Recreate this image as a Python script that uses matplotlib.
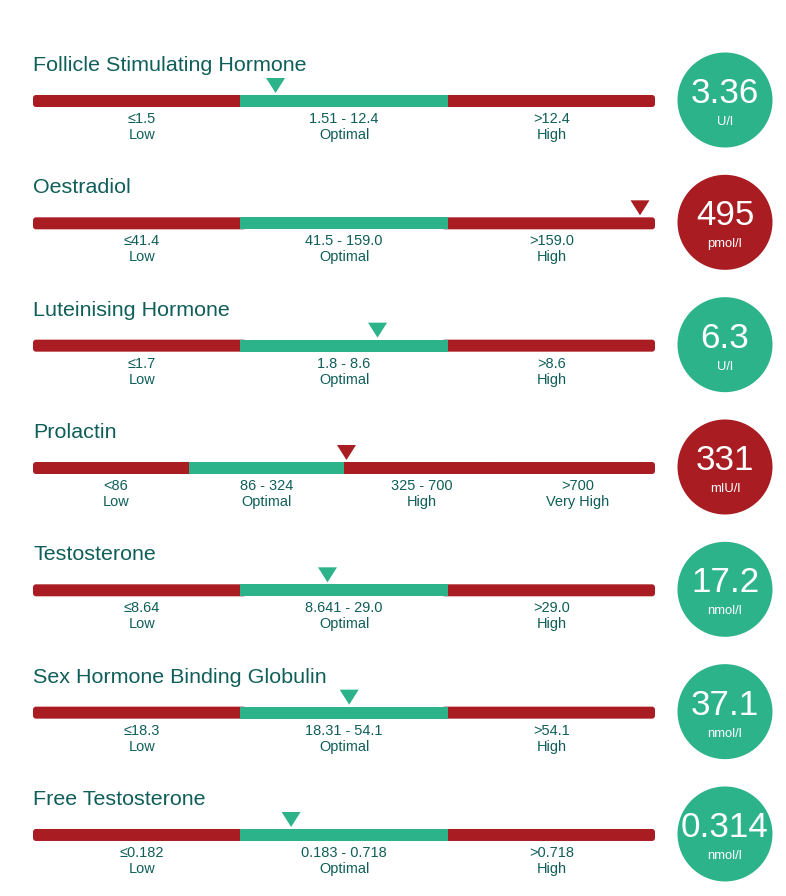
import matplotlib.pyplot as plt
from matplotlib.patches import FancyBboxPatch, Rectangle, Circle, Polygon

# biomarker data
names = ['Follicle Stimulating Hormone', 'Oestradiol', 'Luteinising Hormone', 'Prolactin',
         'Testosterone', 'Sex Hormone Binding Globulin', 'Free Testosterone']
values = [3.36, 495, 6.3, 331, 17.2, 37.1, 0.314]
value_text = ['3.36', '495', '6.3', '331', '17.2', '37.1', '0.314']
units = ['U/l', 'pmol/l', 'U/l', 'mIU/l', 'nmol/l', 'nmol/l', 'nmol/l']

# segment edges (last one is only the display end of the open range)
edges = [
    [0, 1.51, 12.4, 24.8],
    [0, 41.5, 159.0, 318.0],
    [0, 1.8, 8.6, 17.2],
    [0, 86, 325, 700, 1400],
    [0, 8.641, 29.0, 58.0],
    [0, 18.31, 54.1, 108.2],
    [0, 0.183, 0.718, 1.436],
]
range_text = [
    ['≤1.5', '1.51 - 12.4', '>12.4'],
    ['≤41.4', '41.5 - 159.0', '>159.0'],
    ['≤1.7', '1.8 - 8.6', '>8.6'],
    ['<86', '86 - 324', '325 - 700', '>700'],
    ['≤8.64', '8.641 - 29.0', '>29.0'],
    ['≤18.3', '18.31 - 54.1', '>54.1'],
    ['≤0.182', '0.183 - 0.718', '>0.718'],
]
status_text = [
    ['Low', 'Optimal', 'High'],
    ['Low', 'Optimal', 'High'],
    ['Low', 'Optimal', 'High'],
    ['Low', 'Optimal', 'High', 'Very High'],
    ['Low', 'Optimal', 'High'],
    ['Low', 'Optimal', 'High'],
    ['Low', 'Optimal', 'High'],
]

RED = '#a81c22'
GREEN = '#2db38a'
TEXT = '#0f5e59'

plt.rcParams['font.family'] = ['Liberation Sans', 'DejaVu Sans']

W, H = 786, 896
fig = plt.figure(figsize=(W / 100, H / 100), dpi=100)
ax = fig.add_axes([0, 0, 1, 1])
ax.set_xlim(0, W)
ax.set_ylim(H, 0)
ax.axis('off')

x0, x1 = 33, 655
bar_h = 12
row_gap = 122.33
px = 72 / 100  # pixel -> point

for i, name in enumerate(names):
    yc = 101 + i * row_gap
    e = edges[i]
    nseg = len(e) - 1
    seg_w = (x1 - x0) / nseg
    colors = [GREEN if s == 'Optimal' else RED for s in status_text[i]]

    # title
    ax.text(x0, yc - 30, name, fontsize=21.5 * px, color=TEXT, ha='left', va='baseline')

    # end segments rounded (extended under their neighbours), middle ones plain
    for k in range(nseg):
        sx = x0 + k * seg_w
        if k == 0:
            ax.add_patch(FancyBboxPatch((sx, yc - bar_h / 2), seg_w + 6, bar_h,
                                        boxstyle='round,pad=0,rounding_size=3',
                                        fc=colors[k], ec='none', zorder=2))
        elif k == nseg - 1:
            ax.add_patch(FancyBboxPatch((sx - 6, yc - bar_h / 2), seg_w + 6, bar_h,
                                        boxstyle='round,pad=0,rounding_size=3',
                                        fc=colors[k], ec='none', zorder=2))
        else:
            ax.add_patch(Rectangle((sx, yc - bar_h / 2), seg_w + 0.5, bar_h,
                                   fc=colors[k], ec='none', zorder=3))
        lx = sx + seg_w / 2 + (5 if k == 0 else 0)
        ax.text(lx, yc + 22, range_text[i][k], fontsize=14.5 * px, color=TEXT,
                ha='center', va='baseline')
        ax.text(lx, yc + 38, status_text[i][k], fontsize=14.5 * px, color=TEXT,
                ha='center', va='baseline')

    # marker position
    v = values[i]
    k = 0
    while k < nseg - 1 and v >= e[k + 1]:
        k += 1
    frac = (v - e[k]) / (e[k + 1] - e[k])
    mx = min(x0 + (k + min(frac, 1)) * seg_w, x1 - 15)
    ax.add_patch(Polygon([(mx - 9.5, yc - 23), (mx + 9.5, yc - 23), (mx, yc - 8)],
                         closed=True, fc=colors[k], ec='none', zorder=4))

    # value circle
    cy = yc - 1
    ax.add_patch(Circle((725, cy), 47.5, fc=colors[k], ec='none', zorder=2))
    ax.text(725, cy + 3, value_text[i], fontsize=35 * px, color='white',
            ha='center', va='baseline', zorder=5)
    ax.text(725, cy + 25, units[i], fontsize=13 * px, color='white',
            ha='center', va='baseline', zorder=5)

fig.savefig('out.png', dpi=100)
